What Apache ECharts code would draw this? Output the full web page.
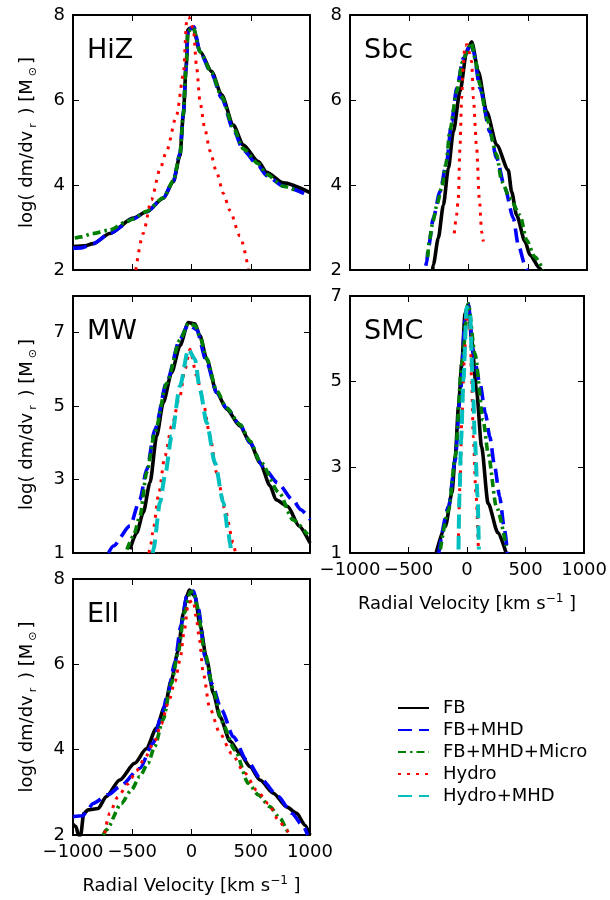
<!DOCTYPE html>
<html><head><meta charset="utf-8">
<script src="https://cdn.jsdelivr.net/npm/echarts@6/dist/echarts.min.js"></script>
<style>html,body{margin:0;padding:0;background:#fff}#c{width:610px;height:900px}</style>
</head><body><div id="c"></div>
<script>
// ---------- DATA ----------
var seriesNames = ['FB','FB+MHD','FB+MHD+Micro','Hydro','Hydro+MHD'];
var panelNames = ['HiZ','Sbc','MW','SMC','Ell'];
var xTicks = [-1000,-500,0,500,1000];

// HiZ
var hizFB = [[-1000,2.55],[-900,2.57],[-831,2.62],[-690,2.86],[-493,3.22],[-379,3.37],[-238,3.69],[-153,4.08],[-97,4.7],[-69,5.65],[-45,6.8],[-30,7.65],[-13,7.69],[15,7.69],[72,7.14],[170,6.67],[254,6.12],[353,5.41],[437,4.94],[564,4.55],[634,4.3],[775,4.05],[1000,3.82]];
var hizMHD = [[-1000,2.51],[-930,2.52],[-831,2.62],[-690,2.86],[-493,3.2],[-379,3.37],[-238,3.7],[-153,4.1],[-97,4.75],[-69,5.7],[-45,6.8],[-30,7.6],[0,7.7],[20,7.72],[72,7.12],[170,6.62],[254,6.05],[353,5.3],[437,4.82],[564,4.45],[634,4.22],[775,3.97],[950,3.8]];
var hizMicro = [[-985,2.75],[-930,2.78],[-831,2.86],[-690,2.94],[-560,3.12],[-493,3.2],[-379,3.38],[-238,3.7],[-153,4.1],[-97,4.72],[-69,5.68],[-45,6.8],[-30,7.62],[15,7.7],[72,7.13],[170,6.64],[254,6.08],[353,5.35],[437,4.85],[564,4.5],[634,4.25],[775,3.97],[900,3.85]];
var hizHydro = [[-470,2.0],[-408,2.86],[-338,3.65],[-268,4.35],[-210,4.8],[-125,5.65],[-69,6.59],[-41,7.84],[-25,7.96],[15,7.69],[44,6.75],[72,5.95],[114,5.3],[156,4.8],[212,4.3],[269,3.8],[324,3.4],[408,2.8],[480,2.03]];

// Sbc
var sbcFB = [[-303,2.0],[-297,2.12],[-255,2.75],[-212,3.53],[-170,4.39],[-128,5.25],[-72,6.2],[-15,7.14],[27,7.37],[83,6.67],[153,5.73],[238,4.94],[336,4.35],[364,3.84],[406,3.29],[477,2.67],[519,2.35],[601,2.04],[612,2.0]];
var sbcMHD = [[-360,2.1],[-353,2.2],[-339,2.51],[-297,3.22],[-241,3.84],[-184,4.55],[-142,5.49],[-100,6.27],[-44,6.98],[20,7.33],[41,7.14],[97,6.27],[181,5.25],[238,4.63],[308,3.92],[378,3.22],[420,2.59],[477,2.12],[495,2.0]];
var sbcMicro = [[-345,2.3],[-330,2.7],[-300,3.15],[-265,3.55],[-225,3.95],[-190,4.5],[-156,5.3],[-100,6.2],[-50,6.9],[-17,7.1],[25,7.35],[55,6.98],[97,6.35],[153,5.57],[238,4.71],[280,4.08],[350,3.69],[435,3.29],[491,2.7],[559,2.31],[629,2.0]];
var sbcHydro = [[-120,2.86],[-100,3.3],[-86,3.69],[-72,4.86],[-58,6.04],[-44,6.82],[-30,7.29],[-10,7.3],[10,7.1],[27,6.9],[41,6.04],[69,4.86],[91,3.69],[111,2.9],[125,2.67]];

// MW
var mwFB = [[-519,1.1],[-463,1.55],[-407,2.1],[-350,2.92],[-294,4.19],[-238,5.1],[-167,5.92],[-97,6.65],[-27,7.28],[29,7.24],[71,6.92],[128,6.28],[212,5.37],[297,4.92],[409,4.46],[494,4.01],[578,3.46],[663,2.83],[713,2.45],[811,2.27],[909,1.73],[1000,1.27]];
var mwMHD = [[-700,1.0],[-660,1.19],[-519,1.74],[-435,2.46],[-378,3.28],[-308,4.37],[-210,5.65],[-97,6.83],[-27,7.22],[42,7.09],[128,6.2],[212,5.37],[297,4.95],[409,4.5],[494,4.0],[601,3.36],[727,2.91],[853,2.45],[923,2.18],[1000,1.91]];
var mwMicro = [[-545,1.09],[-491,1.46],[-435,2.0],[-378,3.2],[-308,4.3],[-210,5.62],[-97,6.8],[-27,7.25],[29,7.2],[71,6.9],[128,6.3],[212,5.42],[297,4.95],[409,4.5],[494,4.05],[578,3.5],[741,2.64],[853,1.91],[980,1.5]];
var mwHydro = [[-360,1.0],[-350,1.1],[-322,1.65],[-280,2.55],[-224,3.64],[-167,4.46],[-97,5.28],[-55,6.0],[-13,6.55],[43,5.83],[99,5.1],[156,4.19],[212,3.19],[282,2.19],[353,1.28],[370,1.0]];
var mwHMHD = [[-326,1.0],[-322,1.1],[-266,2.37],[-224,3.1],[-167,4.19],[-97,5.55],[-27,6.55],[29,6.28],[71,5.46],[128,4.55],[198,3.46],[269,2.37],[311,1.55],[325,1.28],[335,1.0]];

// SMC
var smcFB = [[-264,1.0],[-185,1.62],[-129,2.4],[-101,3.25],[-73,4.42],[-45,5.42],[-17,6.59],[11,6.82],[39,5.97],[81,4.8],[124,3.48],[180,2.16],[264,1.47],[334,1.0]];
var smcMHD = [[-242,1.0],[-157,2.09],[-101,3.17],[-59,4.65],[-17,6.43],[11,6.82],[53,5.66],[110,4.96],[157,4.26],[194,3.72],[236,3.02],[278,2.32],[320,1.54],[345,1.0]];
var smcMicro = [[-228,1.08],[-157,2.01],[-101,3.25],[-45,5.42],[11,6.82],[67,5.66],[138,4.1],[180,3.33],[250,2.09],[334,1.16]];
var smcHydro = [[-73,1.39],[-59,2.71],[-45,4.1],[-25,5.42],[-3,6.66],[25,6.36],[39,5.04],[53,3.72],[76,2.4],[96,1.16]];
var smcHMHD = [[-73,1.08],[-65,2.32],[-51,3.64],[-31,5.04],[-3,6.74],[25,6.59],[48,5.04],[67,3.64],[90,2.32],[101,1.08]];

// Ell
var ellFB = [[-1000,2.25],[-975,2.2],[-955,2.0],[-935,2.0],[-910,2.5],[-873,2.59],[-789,2.62],[-719,2.9],[-606,3.29],[-480,3.68],[-381,4.02],[-297,4.5],[-226,5.01],[-170,5.63],[-114,6.3],[-69,7.2],[-40,7.6],[-18,7.74],[30,7.6],[72,6.92],[128,6.12],[184,5.32],[240,4.77],[325,4.2],[409,3.91],[494,3.6],[578,3.29],[691,2.98],[803,2.66],[888,2.51],[958,2.23],[1000,2.0]];
var ellMHD = [[-1000,2.43],[-916,2.45],[-870,2.62],[-831,2.74],[-700,2.95],[-606,3.13],[-437,3.56],[-325,4.15],[-252,4.81],[-196,5.36],[-139,6.06],[-90,6.9],[-40,7.6],[15,7.72],[58,7.3],[114,6.18],[170,5.55],[254,4.93],[353,4.3],[465,3.76],[592,3.29],[733,2.9],[845,2.51],[944,2.2],[980,2.0]];
var ellMicro = [[-745,2.0],[-719,2.12],[-592,2.74],[-508,3.05],[-437,3.37],[-367,3.68],[-311,4.07],[-240,4.7],[-170,5.55],[-114,6.26],[-60,7.2],[-10,7.7],[20,7.7],[44,7.39],[114,6.26],[184,5.4],[254,4.66],[367,3.99],[480,3.21],[564,2.94],[663,2.66],[747,2.39],[817,2.08],[830,2.0]];
var ellHydro = [[-733,2.04],[-691,2.51],[-620,2.9],[-536,3.2],[-466,3.5],[-395,3.8],[-311,4.2],[-255,4.6],[-196,5.1],[-139,5.6],[-97,6.1],[-60,6.8],[-27,7.45],[15,7.5],[40,7.1],[66,6.6],[100,5.78],[153,4.98],[240,4.38],[339,3.91],[451,3.45],[550,3.05],[648,2.74],[733,2.35],[803,2.12],[831,1.96]];

var panelData = [
  [hizFB, hizMHD, hizMicro, hizHydro, null],
  [sbcFB, sbcMHD, sbcMicro, sbcHydro, null],
  [mwFB, mwMHD, mwMicro, mwHydro, mwHMHD],
  [smcFB, smcMHD, smcMicro, smcHydro, smcHMHD],
  [ellFB, ellMHD, ellMicro, ellHydro, null]
];
var yMin = [2,2,1,1,2];
var yMax = [8,8,8,7,8];
var yInterval = [2,2,2,2,2];

// ---------- LAYOUT / STYLE ----------
var FONT = 'DejaVu Sans';
var grids = [
  {left:73, top:15, width:237, height:255},
  {left:350, top:15, width:237, height:255},
  {left:73, top:296, width:237, height:257},
  {left:350, top:296, width:237, height:257},
  {left:73, top:579, width:237, height:256}
];
var showXLabels = [false,false,false,true,true];
var showYName = [true,false,true,false,true];
var lineStyles = [
  {color:'#000000', width:3.6, type:'solid'},
  {color:'#0000ff', width:3.6, type:[14,7]},
  {color:'#008000', width:3.6, type:[8,4,2.5,4]},
  {color:'#ff0000', width:3, type:[3,6]},
  {color:'#00bfbf', width:4, type:[14,7]}
];
function fmt(v){ return String(v).replace('-', '\u2212'); }

var option = {
  animation:false,
  backgroundColor:'#ffffff',
  textStyle:{fontFamily:FONT},
  grid:[], xAxis:[], yAxis:[], series:[], title:[],
  legend:{
    orient:'vertical', left:392, top:694, itemWidth:31, itemHeight:14, itemGap:4,
    itemStyle:{opacity:0},
    data:seriesNames,
    textStyle:{fontFamily:FONT, fontSize:18, color:'#000', padding:[0,0,0,9]}
  }
};

var axisLine = {show:true, onZero:false, lineStyle:{color:'#000', width:2}};
var axisTick = {show:true, inside:true, length:6, lineStyle:{color:'#000', width:1}};

for (var p=0;p<5;p++){
  option.grid.push(Object.assign({containLabel:false}, grids[p]));
  option.xAxis.push({
    type:'value', gridIndex:p, min:-1000, max:1000, interval:500, position:'bottom',
    axisLine:axisLine, axisTick:axisTick, splitLine:{show:false},
    axisLabel:{show:showXLabels[p], fontFamily:FONT, fontSize:18, color:'#000', margin:8, formatter:fmt},
    name: showXLabels[p] ? '{n|Radial Velocity [km s}{sup|\u22121}{n| ]}' : '',
    nameLocation:'middle', nameGap:40,
    nameTextStyle:{fontFamily:FONT, color:'#000', rich:{
      n:{fontFamily:FONT, fontSize:18, color:'#000', lineHeight:22},
      sup:{fontFamily:FONT, fontSize:12, color:'#000', verticalAlign:'top', lineHeight:22}
    }}
  });
  option.xAxis.push({
    type:'value', gridIndex:p, min:-1000, max:1000, interval:500, position:'top',
    axisLine:axisLine, axisTick:axisTick, splitLine:{show:false}, axisLabel:{show:false}
  });
  option.yAxis.push({
    type:'value', gridIndex:p, min:yMin[p], max:yMax[p], interval:yInterval[p], position:'left',
    axisLine:axisLine, axisTick:axisTick, splitLine:{show:false},
    axisLabel:{fontFamily:FONT, fontSize:18, color:'#000', margin:8,
      formatter:(function(mn,iv){return function(v){ return ((v-mn)%iv===0) ? fmt(v) : ''; };})(yMin[p], yInterval[p])},
    name: showYName[p] ? '{n|log( dm/dv}{sub|r}{n| ) [M}{sub|\u2299}{n|]}' : '',
    nameLocation:'middle', nameRotate:90, nameGap:34,
    nameTextStyle:{fontFamily:FONT, color:'#000', rich:{
      n:{fontFamily:FONT, fontSize:18, color:'#000', lineHeight:24},
      sub:{fontFamily:FONT, fontSize:11, color:'#000', verticalAlign:'bottom', lineHeight:24, padding:[0,3,0,3]}
    }}
  });
  option.yAxis.push({
    type:'value', gridIndex:p, min:yMin[p], max:yMax[p], interval:yInterval[p], position:'right',
    axisLine:axisLine, axisTick:axisTick, splitLine:{show:false}, axisLabel:{show:false}
  });
  option.title.push({
    text:panelNames[p], left:grids[p].left+9, top:grids[p].top+17,
    textStyle:{fontFamily:FONT, fontSize:27, fontWeight:'normal', color:'#000'}
  });
  for (var s=0;s<5;s++){
    var d = panelData[p][s];
    if (!d) continue;
    option.series.push({
      name:seriesNames[s], type:'line', xAxisIndex:2*p, yAxisIndex:2*p,
      data:d, symbol:'none', showSymbol:false, smooth:0.25, smoothMonotone:'x',
      clip:true, lineStyle:lineStyles[s], itemStyle:{color:lineStyles[s].color},
      z: 2+s
    });
  }
}
var chart = echarts.init(document.getElementById('c'), null, {renderer:'canvas'});
chart.setOption(option);
</script>
</body></html>
